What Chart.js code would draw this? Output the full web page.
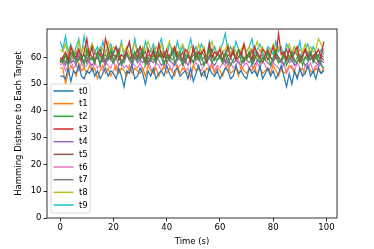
<!DOCTYPE html>
<html>
<head>
<meta charset="utf-8">
<script src="https://cdn.jsdelivr.net/npm/chart.js@4/dist/chart.umd.min.js"></script>
<style>
  html, body { margin: 0; padding: 0; background: #fff; }
  #wrap { width: 374px; height: 249px; }
</style>
</head>
<body>
<div id="wrap"><canvas id="c"></canvas></div>
<script>
const seriesNames = ['t0', 't1', 't2', 't3', 't4', 't5', 't6', 't7', 't8', 't9'];
const seriesColors = ['#1f77b4', '#ff7f0e', '#2ca02c', '#d62728', '#9467bd',
  '#8c564b', '#e377c2', '#7f7f7f', '#bcbd22', '#17becf'];
const xTicks = [0, 20, 40, 60, 80, 100];
const yTicks = [0, 10, 20, 30, 40, 50, 60];

const t0 = [53,53,52,56,51,55,54,57,53,52, 55,54,56,53,55,52,54,56,53,55,
  54,52,56,53,49,55,54,57,52,53, 56,54,50,55,53,56,52,54,55,53,
  57,54,52,55,56,53,54,55,52,56, 51,54,57,53,55,52,56,54,53,55,
  52,54,56,55,52,53,57,54,55,53, 52,56,54,55,53,57,52,54,56,53,
  55,52,54,57,53,49,54,50,55,52, 56,53,54,57,53,55,52,56,54,55];
const t1 = [56,56,50,54,57,55,53,58,55,56, 54,57,55,56,52,55,57,54,56,53,
  55,57,54,56,55,53,57,54,56,55, 54,56,53,57,55,54,56,53,55,57,
  54,56,55,53,57,54,56,55,54,53, 57,55,56,54,53,56,55,57,54,56,
  55,53,56,57,54,55,56,53,57,55, 54,56,55,57,53,56,54,55,56,54,
  57,55,53,56,54,55,57,56,54,53, 55,56,54,57,55,54,56,55,54,56];
const t2 = [59,58,61,57,60,62,58,59,61,57, 63,59,60,58,62,57,60,61,59,63,
  58,60,62,57,59,61,60,58,62,59, 60,63,57,60,59,61,58,62,60,57,
  61,59,63,58,60,62,57,59,61,60, 58,62,59,61,57,60,63,58,60,59,
  61,58,62,60,57,59,61,63,58,60, 59,62,57,60,61,58,60,59,62,57,
  60,63,58,59,61,57,60,62,59,58, 61,57,60,59,62,58,60,61,57,56];
const t3 = [58,60,62,59,64,61,60,63,59,62, 67,60,64,58,62,61,59,67,63,60,
  62,64,59,61,60,63,66,59,62,60, 64,61,58,63,60,62,59,65,61,60,
  63,59,62,64,60,61,59,63,62,58, 64,60,62,61,63,59,65,60,62,61,
  63,59,61,64,60,62,59,63,61,65, 60,62,59,64,61,60,63,62,59,61,
  64,60,69,61,62,59,63,60,62,64, 59,61,63,60,62,59,61,63,60,66];
const t4 = [58,59,57,60,58,59,57,61,58,59, 60,58,57,59,60,58,59,57,60,59,
  58,60,57,59,58,61,59,57,60,58, 59,58,60,57,59,58,60,59,57,58,
  60,59,58,57,59,60,58,59,57,60, 58,59,60,57,58,59,60,58,57,59,
  60,58,59,57,60,58,59,58,57,60, 59,58,60,57,59,58,60,59,58,57,
  59,60,58,59,57,60,58,59,57,58, 60,59,57,58,60,59,58,57,59,58];
const t5 = [60,59,61,58,62,60,59,63,60,61, 58,62,60,59,61,63,60,58,62,59,
  61,60,63,58,60,62,59,61,60,63, 59,61,62,58,60,63,59,61,60,62,
  58,60,61,63,59,60,62,58,61,60, 63,59,60,62,61,58,60,63,59,61,
  60,62,58,61,60,63,59,60,62,58, 61,60,63,59,62,60,58,61,63,60,
  59,62,60,58,61,63,60,59,62,61, 58,60,63,59,61,60,62,58,60,59];
const t6 = [57,58,55,57,59,56,57,55,58,56, 57,59,55,58,56,57,55,58,57,56,
  59,55,57,58,56,57,55,58,57,56, 58,55,57,59,56,54,58,57,55,56,
  58,57,55,59,56,57,58,55,56,52, 57,58,56,55,57,59,56,58,55,57,
  56,58,57,55,58,56,57,59,55,57, 58,56,57,55,58,56,59,57,55,56,
  58,57,56,55,58,54,56,57,55,58, 56,53,57,56,58,55,57,56,58,55];
const t7 = [59,60,58,61,59,60,62,59,60,58, 61,60,59,62,60,58,61,59,60,62,
  59,61,60,58,60,62,59,61,60,59, 62,60,58,61,60,59,61,60,62,58,
  60,61,59,60,62,59,58,61,60,59, 61,60,62,59,60,58,61,60,59,62,
  60,59,61,58,60,62,59,60,61,59, 60,62,58,61,59,60,61,59,62,60,
  58,61,60,59,62,60,59,61,58,60, 61,59,60,62,59,61,60,58,61,60];
const t8 = [63,62,65,61,64,63,60,66,62,64, 61,63,65,62,60,64,63,61,66,62,
  64,63,60,65,62,64,61,63,65,62, 60,64,62,66,63,61,64,62,65,60,
  63,66,62,64,61,63,65,62,60,64, 63,61,65,62,64,60,63,66,62,61,
  64,62,63,65,61,64,62,60,63,65, 62,64,61,63,66,62,64,61,63,62,
  65,61,64,62,60,63,65,62,64,61, 63,62,65,61,64,62,63,67,65,62];
const t9 = [66,63,68,62,65,60,64,67,61,68, 63,61,65,62,64,60,66,62,63,65,
  61,64,62,66,60,63,65,61,67,62, 64,60,66,63,62,65,61,64,67,62,
  60,65,63,61,66,62,64,60,63,67, 62,64,61,65,63,60,66,62,64,61,
  63,65,69,62,64,61,66,63,60,65, 62,64,67,61,63,65,62,60,64,63,
  61,66,62,64,60,65,63,61,64,62, 66,60,63,65,61,64,62,60,63,61];

const seriesValues = [t0, t1, t2, t3, t4, t5, t6, t7, t8, t9];
const FONT = 'DejaVu Sans';
const FS = 8.5;

const datasets = seriesNames.map((name, i) => ({
  label: name,
  data: seriesValues[i].map((v, x) => ({ x, y: v })),
  borderColor: seriesColors[i],
  borderWidth: 1.2,
  pointRadius: 0,
  tension: 0,
  fill: false,
}));

// matplotlib-like frame around the plot area
const framePlugin = {
  id: 'frame',
  afterDatasetsDraw(chart) {
    const { ctx, chartArea: a } = chart;
    ctx.save();
    ctx.strokeStyle = '#000';
    ctx.lineWidth = 0.8;
    ctx.strokeRect(a.left, a.top, a.right - a.left, a.bottom - a.top);
    ctx.restore();
  },
};

// legend box in the lower left of the plot area
const boxLegend = {
  id: 'boxLegend',
  afterDraw(chart) {
    const { ctx, chartArea: a } = chart;
    const x0 = a.left + 4, y0 = 84, w = 39, h = 129;
    ctx.save();
    ctx.fillStyle = 'rgba(255,255,255,0.8)';
    ctx.strokeStyle = '#d0d0d0';
    ctx.lineWidth = 0.8;
    ctx.beginPath();
    ctx.roundRect(x0, y0, w, h, 2);
    ctx.fill();
    ctx.stroke();
    ctx.font = `${FS}px '${FONT}'`;
    ctx.textBaseline = 'middle';
    chart.data.datasets.forEach((ds, i) => {
      const y = 91 + i * 12.67;
      ctx.strokeStyle = ds.borderColor;
      ctx.lineWidth = 1.5;
      ctx.beginPath();
      ctx.moveTo(x0 + 2.5, y);
      ctx.lineTo(x0 + 22.5, y);
      ctx.stroke();
      ctx.fillStyle = '#000';
      ctx.fillText(ds.label, x0 + 28, y + 0.5);
    });
    ctx.restore();
  },
};

new Chart(document.getElementById('c'), {
  type: 'line',
  data: { datasets },
  options: {
    responsive: true,
    maintainAspectRatio: false,
    animation: false,
    layout: { padding: { left: 0, right: 37, top: 29, bottom: 0 } },
    plugins: {
      legend: { display: false },
      tooltip: { enabled: false },
    },
    scales: {
      x: {
        type: 'linear',
        min: -4.95,
        max: 103.95,
        afterBuildTicks: (s) => { s.ticks = xTicks.map((v) => ({ value: v })); },
        afterFit: (s) => { s.height = 31; },
        border: { display: false },
        grid: { drawOnChartArea: false, drawTicks: true, tickLength: 3.5, color: '#000', lineWidth: 0.8 },
        ticks: { color: '#000', font: { family: FONT, size: FS }, padding: 1.5, maxRotation: 0 },
        title: { display: true, text: 'Time (s)', color: '#000', font: { family: FONT, size: FS }, padding: { top: 0, bottom: 2 } },
      },
      y: {
        type: 'linear',
        min: 0,
        max: 70.6,
        afterBuildTicks: (s) => { s.ticks = yTicks.map((v) => ({ value: v })); },
        afterFit: (s) => { s.width = 47; },
        border: { display: false },
        grid: { drawOnChartArea: false, drawTicks: true, tickLength: 3.5, color: '#000', lineWidth: 0.8 },
        ticks: { color: '#000', font: { family: FONT, size: FS }, padding: 2 },
        title: { display: true, text: 'Hamming Distance to Each Target', color: '#000', font: { family: FONT, size: FS }, padding: { top: 14, bottom: 0 } },
      },
    },
  },
  plugins: [framePlugin, boxLegend],
});
</script>
</body>
</html>
